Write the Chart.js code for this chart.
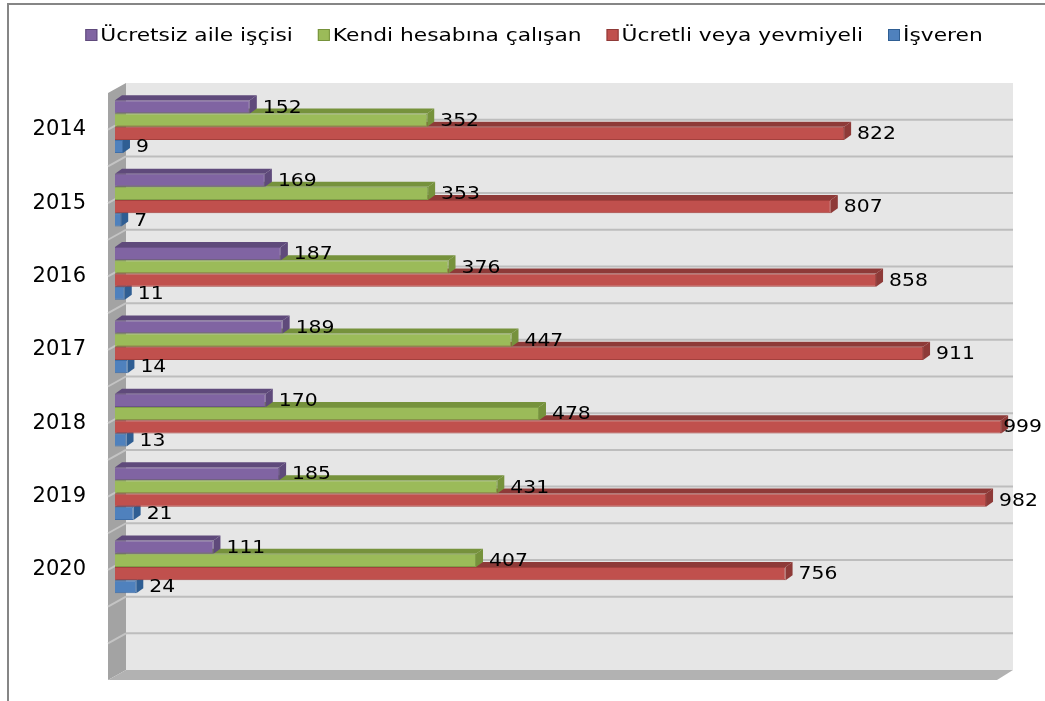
<!DOCTYPE html>
<html>
<head>
<meta charset="utf-8">
<script src="https://cdn.jsdelivr.net/npm/chart.js@4.4.1/dist/chart.umd.min.js"></script>
<style>
body { margin: 0; background: #fff; }
</style>
</head>
<body>
<canvas id="myChart" width="1045" height="701"></canvas>
<script>
// chart data
var years = ['2014', '2015', '2016', '2017', '2018', '2019', '2020'];
var seriesNames = ['Ücretsiz aile işçisi', 'Kendi hesabına çalışan', 'Ücretli veya yevmiyeli', 'İşveren'];
var ucretsiz = [152, 169, 187, 189, 170, 185, 111];
var kendiHesabina = [352, 353, 376, 447, 478, 431, 407];
var ucretli = [822, 807, 858, 911, 999, 982, 756];
var isveren = [9, 7, 11, 14, 13, 21, 24];

var frontColors = ['#8064a2', '#9bbb59', '#c0504d', '#4f81bd'];
var darkColors = ['#5f4a7b', '#76923c', '#8e3a38', '#2f5e93'];
var edgeColors = ['#6b5289', '#809e48', '#a3403d', '#3f6ea6'];

var numFont = '18px "DejaVu Sans"';
var numStretch = 1.13;
var legendFont = '17px "DejaVu Sans"';
var legendStretch = 1.28;
var DX = 7, DY = 5; // bar depth

function stretchedText(ctx, text, x, y, s) {
	ctx.save();
	ctx.translate(x, y);
	ctx.scale(s, 1);
	ctx.fillText(text, 0, 0);
	ctx.restore();
}

// 3d walls, grid, legend and value labels
var walls3d = {
	id: 'walls3d',
	beforeDraw: function(chart) {
		var ctx = chart.ctx;
		ctx.save();
		ctx.strokeStyle = '#868686';
		ctx.lineWidth = 2;
		ctx.beginPath();
		ctx.moveTo(1045, 4);
		ctx.lineTo(8, 4);
		ctx.lineTo(8, 701);
		ctx.stroke();
		ctx.restore();
	},
	beforeDatasetsDraw: function(chart) {
		var ctx = chart.ctx;
		var a = chart.chartArea;
		var bl = a.left + 11, bt = a.top - 7, br = a.right + 11, bb = a.bottom - 7;
		var fl = a.left - 7;
		ctx.save();
		// back wall
		ctx.fillStyle = '#e6e6e6';
		ctx.fillRect(bl, bt, br - bl, bb - bt);
		// left wall
		ctx.fillStyle = '#a3a3a3';
		ctx.beginPath();
		ctx.moveTo(fl, bt + 10);
		ctx.lineTo(bl, bt);
		ctx.lineTo(bl, bb);
		ctx.lineTo(fl, bb + 10);
		ctx.closePath();
		ctx.fill();
		// floor
		ctx.fillStyle = '#b2b2b2';
		ctx.beginPath();
		ctx.moveTo(bl, bb);
		ctx.lineTo(br, bb);
		ctx.lineTo(br - 16, bb + 10);
		ctx.lineTo(fl, bb + 10);
		ctx.closePath();
		ctx.fill();
		// grid lines
		var step = (bb - bt) / 16;
		ctx.lineWidth = 2;
		for (var k = 1; k < 16; k++) {
			var y = bt + k * step;
			ctx.strokeStyle = '#bdbdbd';
			ctx.beginPath();
			ctx.moveTo(bl, y);
			ctx.lineTo(br, y);
			ctx.stroke();
			ctx.strokeStyle = '#c4c4c4';
			ctx.beginPath();
			ctx.moveTo(fl, y + 10);
			ctx.lineTo(bl, y);
			ctx.stroke();
		}
		ctx.restore();
	},
	afterDatasetDraw: function(chart, args) {
		var ctx = chart.ctx;
		var i = args.index;
		ctx.save();
		ctx.fillStyle = darkColors[i];
		args.meta.data.forEach(function(bar) {
			var p = bar.getProps(['x', 'y', 'base', 'height'], true);
			if (isNaN(p.x)) return;
			var x0 = p.base, x1 = p.x, y0 = p.y - p.height / 2, y1 = p.y + p.height / 2;
			ctx.beginPath();
			ctx.moveTo(x0, y0);
			ctx.lineTo(x1, y0);
			ctx.lineTo(x1 + DX, y0 - DY);
			ctx.lineTo(x0 + DX, y0 - DY);
			ctx.closePath();
			ctx.fill();
			ctx.beginPath();
			ctx.moveTo(x1, y0);
			ctx.lineTo(x1 + DX, y0 - DY);
			ctx.lineTo(x1 + DX, y1 - DY);
			ctx.lineTo(x1, y1);
			ctx.closePath();
			ctx.fill();
		});
		ctx.restore();
	},
	afterDatasetsDraw: function(chart) {
		var ctx = chart.ctx;
		ctx.save();
		ctx.font = numFont;
		ctx.fillStyle = '#000';
		ctx.textBaseline = 'middle';
		ctx.textAlign = 'left';
		chart.data.datasets.forEach(function(ds, i) {
			chart.getDatasetMeta(i).data.forEach(function(bar, j) {
				if (ds.data[j] == null) return;
				var txt = String(ds.data[j]);
				var w = ctx.measureText(txt).width * numStretch;
				// keep label inside the canvas, like Excel does
				var x = Math.min(bar.x + DX + 6, chart.width - w - 3);
				stretchedText(ctx, txt, x, bar.y + 1, numStretch);
			});
		});
		ctx.restore();
	},
	afterDraw: function(chart) {
		// legend
		var ctx = chart.ctx;
		ctx.save();
		ctx.font = legendFont;
		var widths = seriesNames.map(function(n) { return ctx.measureText(n).width * legendStretch; });
		var total = 0;
		widths.forEach(function(w) { total += 12 + 3 + w; });
		total += 25 * (seriesNames.length - 1);
		var x = 534 - total / 2, y = 35;
		ctx.textBaseline = 'middle';
		for (var i = 0; i < seriesNames.length; i++) {
			ctx.fillStyle = frontColors[i];
			ctx.fillRect(x, y - 6, 12, 12);
			ctx.strokeStyle = darkColors[i];
			ctx.lineWidth = 1;
			ctx.strokeRect(x + 0.5, y - 5.5, 11, 11);
			ctx.fillStyle = '#000';
			stretchedText(ctx, seriesNames[i], x + 15, y + 2, legendStretch);
			x += 15 + widths[i] + 25;
		}
		ctx.restore();
	}
};

var seriesValues = [ucretsiz, kendiHesabina, ucretli, isveren];
var datasets = seriesNames.map(function(name, i) {
	return {
		label: name,
		data: seriesValues[i],
		backgroundColor: frontColors[i],
		borderColor: edgeColors[i],
		borderWidth: 1,
		categoryPercentage: 0.72,
		barPercentage: 1.0
	};
});

var ctx = document.getElementById('myChart').getContext('2d');
var chart = new Chart(ctx, {
	type: 'bar',
	data: {
		labels: years.concat(['']), // one empty slot below 2020
		datasets: datasets
	},
	options: {
		responsive: false,
		animation: false,
		devicePixelRatio: 1,
		indexAxis: 'y',
		layout: { padding: { top: 90, right: 43, bottom: 24, left: 0 } },
		plugins: {
			legend: { display: false },
			tooltip: { enabled: false }
		},
		scales: {
			x: { display: false, min: 0, max: 1000 },
			y: {
				grid: { display: false },
				border: { display: false },
				ticks: { padding: 21, labelOffset: 3, color: '#000', font: { family: 'DejaVu Sans', size: 21 } },
				afterFit: function(scale) {
					scale.width = 115;
					scale.paddingTop = 0;
					scale.paddingBottom = 0;
				}
			}
		}
	},
	plugins: [walls3d]
});
</script>
</body>
</html>
